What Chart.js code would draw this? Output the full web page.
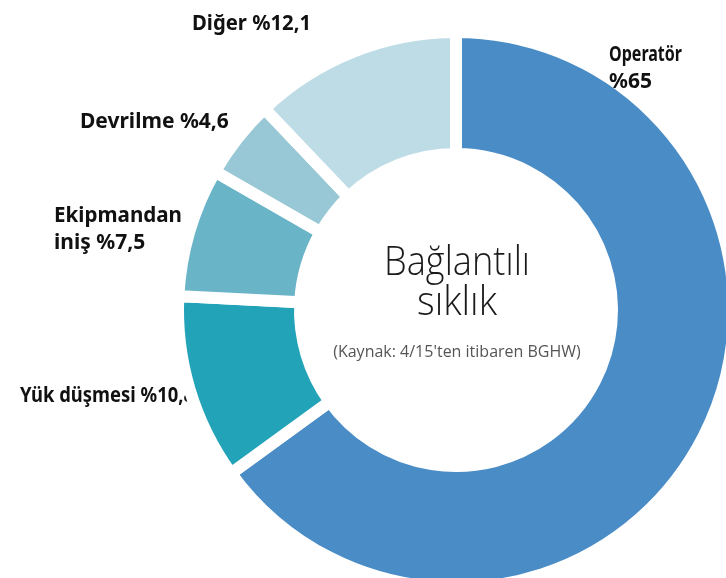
<!DOCTYPE html>
<html lang="tr">
<head>
<meta charset="utf-8">
<script src="https://cdn.jsdelivr.net/npm/chart.js@4.4.1/dist/chart.umd.min.js"></script>
<style>
  html, body { margin: 0; padding: 0; overflow: hidden; background: #fff; }
  #wrap { position: absolute; left: 0; top: 0; width: 800px; height: 650px; }
</style>
</head>
<body>
<div id="wrap"><canvas id="accidentChart"></canvas></div>
<script>
const categories = ['Operatör', 'Yük düşmesi', 'Ekipmandan iniş', 'Devrilme', 'Diğer'];
const shares = [65, 10.8, 7.5, 4.6, 12.1];
const sliceColors = ['#4A8CC6', '#23A3B8', '#6AB4C8', '#98C8D6', '#BEDCE6'];
const centerTitle = ['Bağlantılı', 'sıklık'];
const sourceNote = "(Kaynak: 4/15'ten itibaren BGHW)";

const pct = v => '%' + v.toLocaleString('tr-TR');

// where each label goes (canvas px), lines + optional squeeze width
const labelSpots = [
  { lines: [categories[0], pct(shares[0])], x: 609, y: 61, lh: 27, maxW: 73, under: false },
  { lines: [categories[1] + ' ' + pct(shares[1])], x: 20, y: 402, lh: 0, maxW: 174, under: true },
  { lines: ['Ekipmandan', 'iniş ' + pct(shares[2])], x: 54, y: 222, lh: 27, maxW: 128, under: false },
  { lines: [categories[3] + ' ' + pct(shares[3])], x: 80, y: 128, lh: 0, under: false },
  { lines: [categories[4] + ' ' + pct(shares[4])], x: 192, y: 30, lh: 0, maxW: 119, under: false }
];

function drawLabels(ctx, under) {
  ctx.save();
  ctx.fillStyle = '#111';
  ctx.font = '700 21px "Noto Sans"';
  ctx.textAlign = 'left';
  ctx.textBaseline = 'alphabetic';
  labelSpots.filter(s => s.under === under).forEach(s => {
    s.lines.forEach((line, i) => {
      if (s.maxW) ctx.fillText(line, s.x, s.y + i * s.lh, s.maxW);
      else ctx.fillText(line, s.x, s.y + i * s.lh);
    });
  });
  ctx.restore();
}

const labelPlugin = {
  id: 'sliceLabels',
  beforeDatasetsDraw(chart) { drawLabels(chart.ctx, true); },
  afterDraw(chart) {
    const ctx = chart.ctx;
    drawLabels(ctx, false);
    const cx = 457;
    ctx.save();
    ctx.textAlign = 'center';
    ctx.fillStyle = '#1a1a1a';
    ctx.font = '300 40px "Open Sans"';
    ctx.fillText(centerTitle[0], cx, 275, 146);
    ctx.fillText(centerTitle[1], cx, 315, 80);
    ctx.fillStyle = '#555';
    ctx.font = '400 16px "Open Sans"';
    ctx.fillText(sourceNote, cx, 357, 253);
    ctx.restore();
  }
};

const ctx = document.getElementById('accidentChart').getContext('2d');
new Chart(ctx, {
  type: 'doughnut',
  data: {
    labels: categories,
    datasets: [{
      data: shares,
      backgroundColor: sliceColors,
      borderColor: '#ffffff',
      borderWidth: 12,
      borderAlign: 'center',
      borderJoinStyle: 'miter'
    }]
  },
  options: {
    responsive: true,
    maintainAspectRatio: false,
    animation: false,
    events: [],
    cutout: 156,
    layout: { padding: { left: 172, top: 26, right: 60, bottom: 56 } },
    plugins: {
      legend: { display: false },
      tooltip: { enabled: false }
    }
  },
  plugins: [labelPlugin]
});
</script>
</body>
</html>
